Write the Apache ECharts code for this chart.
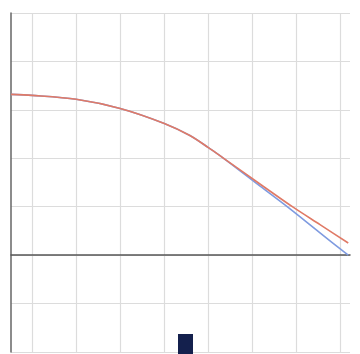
<!DOCTYPE html>
<html>
<head>
<meta charset="utf-8">
<script src="https://cdn.jsdelivr.net/npm/echarts@6/dist/echarts.min.js"></script>
<style>html,body{margin:0;padding:0;background:#fff;}#c{width:360px;height:354px;}</style>
</head>
<body>
<div id="c"></div>
<script>
const redX = [-0.476, 0, 1, 2, 3, 3.58, 4, 4.33, 5.12, 5.92, 6.53, 7.17];
const redY = [3.32, 3.30, 3.22, 3.03, 2.72, 2.47, 2.22, 2.01, 1.50, 0.99, 0.63, 0.25];
const blueX = [-0.476, 0, 1, 2, 3, 3.58, 4, 4.33, 5.12, 5.8, 6.53, 7.17];
const blueY = [3.32, 3.30, 3.22, 3.03, 2.72, 2.47, 2.22, 2.01, 1.46, 0.99, 0.46, 0.0];
const yTicks = [-2, -1, 0, 1, 2, 3, 4, 5];
const legendNames = ['series'];

const pairs = (xs, ys) => xs.map((x, i) => [x, ys[i]]);
const chart = echarts.init(document.getElementById('c'));
chart.setOption({
  animation: false,
  backgroundColor: '#ffffff',
  grid: { left: 11, right: 10, top: 13, bottom: 2, containLabel: false },
  legend: {
    data: legendNames,
    left: 173, top: 329,
    icon: 'rect', itemWidth: 15, itemHeight: 30,
    formatter: () => '',
    textStyle: { fontSize: 1 }
  },
  xAxis: {
    type: 'value', min: -0.476, max: 7.21, splitNumber: 8,
    axisLabel: { show: false }, axisTick: { show: false },
    axisLine: { show: true, onZero: true, lineStyle: { color: '#555', width: 1.5 } },
    splitLine: { show: true, showMinLine: false, showMaxLine: false, lineStyle: { color: '#dcdcdc', width: 1.2 } }
  },
  yAxis: {
    type: 'value', min: yTicks[0], max: yTicks[yTicks.length - 1], interval: 1,
    axisLabel: { show: false }, axisTick: { show: false },
    axisLine: { show: true, onZero: false, lineStyle: { color: '#666', width: 1.5 } },
    splitLine: { show: true, lineStyle: { color: '#dcdcdc', width: 1.2 } }
  },
  series: [
    { name: 'blue', type: 'line', data: pairs(blueX, blueY), smooth: 0.3, showSymbol: false,
      lineStyle: { color: '#7f9be0', width: 1.6 }, itemStyle: { color: '#7f9be0' }, z: 2 },
    { name: 'red', type: 'line', data: pairs(redX, redY), smooth: 0.3, showSymbol: false,
      lineStyle: { color: '#e07a66', width: 1.6 }, itemStyle: { color: '#e07a66' }, z: 3 },
    { name: 'series', type: 'line', data: [], itemStyle: { color: '#14204d' } }
  ]
});
</script>
</body>
</html>
